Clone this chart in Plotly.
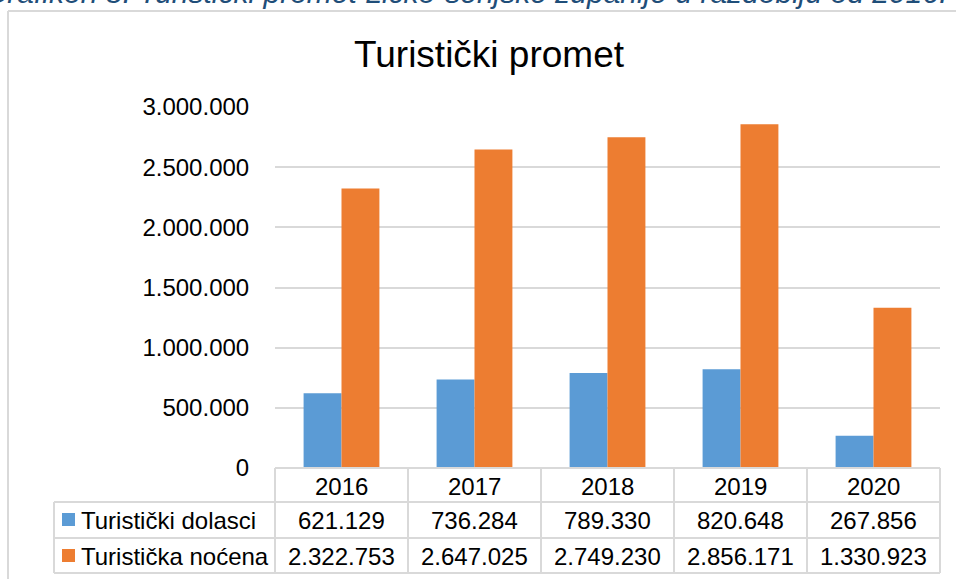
import plotly.graph_objects as go

years = ["2016", "2017", "2018", "2019", "2020"]
dolasci = [621129, 736284, 789330, 820648, 267856]
nocenja = [2322753, 2647025, 2749230, 2856171, 1330923]
series_names = ["Turistički dolasci", "Turistička noćena"]
y_tick_vals = [0, 500000, 1000000, 1500000, 2000000, 2500000, 3000000]
y_tick_text = ["0", "500.000", "1.000.000", "1.500.000", "2.000.000", "2.500.000", "3.000.000"]
title_text = "Turistički promet"
caption_text = "Grafikon 8. Turistički promet Ličko-senjske županije u razdoblju od 2016."

W, H = 956, 579
FONT = "Liberation Sans, Arial, sans-serif"
BLUE = "#5B9BD5"
ORANGE = "#ED7D31"
GRID = "#D9D9D9"


def fmt(v):
    return f"{v:,}".replace(",", ".")


def px(x):
    return x / W


def py(y):
    return 1 - y / H


plot_l, plot_r, plot_top, plot_bot = 275, 940, 107, 468

fig = go.Figure()
fig.add_trace(go.Bar(x=years, y=dolasci, name=series_names[0], marker=dict(color=BLUE, line=dict(width=0))))
fig.add_trace(go.Bar(x=years, y=nocenja, name=series_names[1], marker=dict(color=ORANGE, line=dict(width=0))))

fig.update_layout(
    width=W, height=H, autosize=False,
    margin=dict(l=0, r=0, t=0, b=0, pad=0, autoexpand=False),
    paper_bgcolor="white", plot_bgcolor="white",
    showlegend=False,
    barmode="group", bargap=0.43, bargroupgap=0,
    font=dict(family=FONT, color="#000000"),
    xaxis=dict(domain=[px(plot_l), px(plot_r)], showticklabels=False, showgrid=False,
               zeroline=False, showline=False, range=[-0.5, 4.5], fixedrange=True),
    yaxis=dict(domain=[py(plot_bot), py(plot_top)], range=[0, 3000000],
               tickvals=y_tick_vals, ticktext=y_tick_text,
               tickfont=dict(size=24, color="#000000", family=FONT),
               showgrid=True, gridcolor=GRID, gridwidth=2,
               zeroline=False, showline=False, automargin=False,
               ticks="outside", ticklen=20, tickcolor="rgba(0,0,0,0)"),
)

shapes = []


def line(x0, y0, x1, y1, w=2):
    shapes.append(dict(type="line", xref="paper", yref="paper",
                       x0=px(x0), y0=py(y0), x1=px(x1), y1=py(y1),
                       line=dict(color=GRID, width=w)))


# outer chart border
line(8, 11, W + 5, 11)
line(8, 11, 8, H + 5)

# data table
cols = [275, 408, 541, 674, 807, 940]
line(275, 468, 940, 468)
for yy in [502, 538, 573]:
    line(54, yy, 940, yy)
line(54, 502, 54, 573)
for c in cols:
    line(c, 468, c, 573)

# legend squares
for yc, col in [(519.5, BLUE), (555.5, ORANGE)]:
    shapes.append(dict(type="rect", xref="paper", yref="paper",
                       x0=px(62), x1=px(75), y0=py(yc + 6.5), y1=py(yc - 6.5),
                       fillcolor=col, line=dict(width=0)))

annotations = []


def text(x, y, s, size=24, xanchor="center", **kw):
    annotations.append(dict(x=px(x), y=py(y), xref="paper", yref="paper", text=s,
                            showarrow=False, xanchor=xanchor, yanchor="middle",
                            font=dict(size=size, family=FONT, color=kw.get("color", "#000000"))))


centers = [(cols[i] + cols[i + 1]) / 2 for i in range(5)]
for i, yr in enumerate(years):
    text(centers[i], 486, yr)
    text(centers[i], 520, fmt(dolasci[i]))
    text(centers[i], 556, fmt(nocenja[i]))
text(79, 520, series_names[0], xanchor="left")
text(79, 556, series_names[1], xanchor="left")

# title
text(489, 55, title_text, size=37)

# caption (cut off at the top, as in the reference)
annotations.append(dict(x=px(949), y=py(-8), xref="paper", yref="paper",
                        text="<i>" + caption_text + "</i>", showarrow=False,
                        xanchor="right", yanchor="middle",
                        font=dict(size=30, family=FONT, color="#1F4E79")))

fig.update_layout(shapes=shapes, annotations=annotations)
fig.write_html("out.html", config={"displayModeBar": False},
               post_script="document.body.style.margin='0';document.body.style.overflow='hidden';")
